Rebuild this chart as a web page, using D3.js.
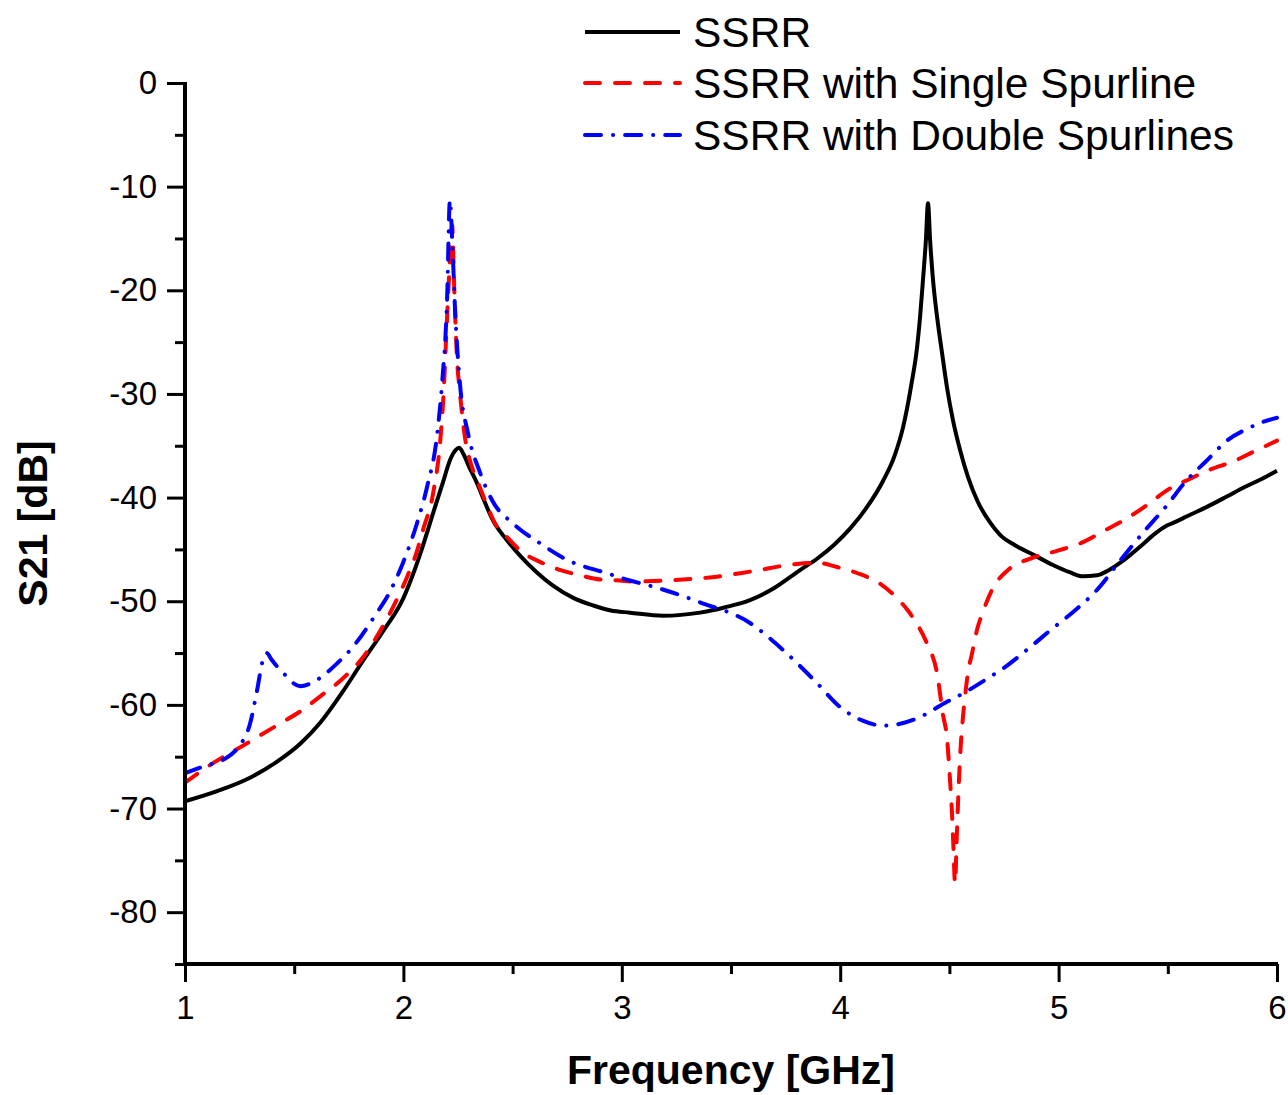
<!DOCTYPE html>
<html>
<head>
<meta charset="utf-8">
<script src="https://cdn.jsdelivr.net/npm/d3@7"></script>
<style>
  html, body { margin: 0; padding: 0; background: #fff; }
  svg { display: block; }
  text { font-family: "Liberation Sans", Arial, sans-serif; }
</style>
</head>
<body>
<svg id="chart" width="1288" height="1095"></svg>
<script>
// ---------- data (frequency GHz, S21 dB) ----------
const seriesNames = ["SSRR", "SSRR with Single Spurline", "SSRR with Double Spurlines"];

const ssrrFreq = [1.000, 1.150, 1.300, 1.420, 1.530, 1.620, 1.720, 1.810, 1.910, 2.000, 2.044, 2.090, 2.136, 2.180, 2.215, 2.240, 2.255, 2.275, 2.300, 2.337, 2.370, 2.410, 2.470, 2.534, 2.610, 2.685, 2.780, 2.868, 2.950, 3.037, 3.189, 3.358, 3.470, 3.587, 3.700, 3.816, 3.894, 3.970, 4.045, 4.120, 4.196, 4.250, 4.288, 4.325, 4.352, 4.366, 4.379, 4.392, 4.402, 4.412, 4.425, 4.445, 4.466, 4.490, 4.516, 4.550, 4.585, 4.630, 4.686, 4.732, 4.800, 4.883, 4.974, 5.050, 5.112, 5.176, 5.230, 5.281, 5.330, 5.386, 5.440, 5.496, 5.540, 5.588, 5.679, 5.770, 5.850, 5.930, 6.000];
const ssrrDb   = [-69.3, -68.3, -67.0, -65.5, -63.7, -61.7, -58.8, -55.9, -52.8, -49.7, -47.4, -44.6, -41.5, -38.6, -36.3, -35.4, -35.2, -35.8, -37.0, -38.6, -40.3, -42.2, -44.0, -45.6, -47.2, -48.5, -49.7, -50.4, -50.9, -51.1, -51.4, -51.1, -50.6, -49.9, -48.7, -47.0, -45.9, -44.6, -43.0, -41.0, -38.4, -35.9, -33.2, -29.2, -25.5, -22.5, -19.0, -15.3, -11.6, -15.3, -19.0, -22.8, -26.0, -29.5, -32.5, -35.5, -38.0, -40.4, -42.4, -43.6, -44.6, -45.5, -46.5, -47.2, -47.6, -47.5, -47.0, -46.3, -45.5, -44.5, -43.5, -42.7, -42.3, -41.8, -40.9, -39.9, -39.0, -38.2, -37.4];

const singleFreq = [1.000, 1.130, 1.252, 1.340, 1.435, 1.530, 1.618, 1.720, 1.815, 1.890, 1.952, 2.016, 2.060, 2.090, 2.136, 2.170, 2.182, 2.200, 2.212, 2.223, 2.233, 2.245, 2.259, 2.282, 2.310, 2.337, 2.380, 2.420, 2.474, 2.540, 2.625, 2.720, 2.809, 2.900, 2.992, 3.050, 3.200, 3.404, 3.600, 3.802, 3.900, 3.985, 4.080, 4.182, 4.260, 4.310, 4.352, 4.400, 4.443, 4.471, 4.489, 4.503, 4.512, 4.518, 4.526, 4.533, 4.540, 4.549, 4.562, 4.571, 4.585, 4.604, 4.626, 4.654, 4.700, 4.768, 4.883, 5.000, 5.112, 5.200, 5.313, 5.400, 5.496, 5.600, 5.693, 5.800, 5.890, 6.000];
const singleDb   = [-67.5, -65.6, -64.1, -63.0, -61.8, -60.6, -59.2, -57.5, -55.4, -53.0, -50.6, -47.7, -45.3, -43.1, -39.6, -34.2, -30.7, -22.6, -17.5, -13.7, -20.0, -26.4, -29.9, -34.2, -36.8, -38.3, -40.6, -42.5, -43.8, -45.2, -46.2, -47.0, -47.5, -47.9, -48.0, -48.1, -48.0, -47.7, -47.1, -46.4, -46.3, -46.7, -47.3, -48.3, -49.7, -50.9, -52.2, -54.2, -56.9, -61.0, -63.2, -67.3, -70.5, -73.5, -77.2, -73.2, -69.2, -65.0, -61.2, -59.3, -56.9, -55.0, -52.8, -51.0, -48.7, -47.0, -45.8, -45.1, -44.3, -43.3, -42.0, -40.8, -39.3, -38.2, -37.3, -36.5, -35.6, -34.5];

const doubleFreq = [1.000, 1.090, 1.174, 1.243, 1.298, 1.330, 1.355, 1.375, 1.395, 1.449, 1.527, 1.604, 1.696, 1.769, 1.879, 1.925, 1.998, 2.062, 2.108, 2.154, 2.177, 2.200, 2.213, 2.225, 2.236, 2.259, 2.296, 2.351, 2.410, 2.502, 2.625, 2.749, 2.932, 3.037, 3.129, 3.358, 3.587, 3.738, 3.894, 3.999, 4.100, 4.196, 4.280, 4.352, 4.489, 4.562, 4.686, 4.745, 4.860, 4.974, 5.080, 5.176, 5.281, 5.386, 5.490, 5.588, 5.680, 5.771, 5.860, 5.936, 6.000];
const doubleDb   = [-66.6, -65.9, -65.3, -64.1, -61.8, -58.6, -55.8, -55.0, -55.6, -56.9, -58.2, -57.6, -56.0, -54.4, -51.1, -49.6, -46.3, -42.5, -39.0, -34.0, -29.0, -20.9, -11.3, -16.0, -21.6, -29.0, -33.8, -37.6, -40.4, -42.5, -44.4, -46.0, -47.3, -48.0, -48.5, -50.1, -52.1, -54.7, -57.9, -60.2, -61.5, -62.0, -61.8, -61.3, -59.7, -58.9, -57.3, -56.5, -54.6, -52.6, -50.8, -48.9, -46.1, -43.4, -40.9, -38.3, -36.4, -34.5, -33.4, -32.7, -32.3];

const xTicks = [1, 2, 3, 4, 5, 6];
const xMinorTicks = [1.5, 2.5, 3.5, 4.5, 5.5];
const yTicks = [0, -10, -20, -30, -40, -50, -60, -70, -80];
const yMinorTicks = [-5, -15, -25, -35, -45, -55, -65, -75, -85];
const xTitle = "Frequency [GHz]";
const yTitle = "S21 [dB]";

// ---------- drawing ----------
const svg = d3.select("#chart");
const x = d3.scaleLinear().domain([1, 6]).range([185, 1277]);
const y = d3.scaleLinear().domain([-85, 0]).range([964, 83]);

const styles = [
  { color: "#000000", dash: null },
  { color: "#ff0000", dash: "15,15" },
  { color: "#0000ff", dash: "16,12,0.1,12" }
];

const series = [
  ssrrFreq.map((f, i) => [f, ssrrDb[i]]),
  singleFreq.map((f, i) => [f, singleDb[i]]),
  doubleFreq.map((f, i) => [f, doubleDb[i]])
];

const line = d3.line().x(d => x(d[0])).y(d => y(d[1])).curve(d3.curveMonotoneX);

series.forEach((s, i) => {
  svg.append("path")
    .datum(s)
    .attr("d", line)
    .attr("fill", "none")
    .attr("stroke", styles[i].color)
    .attr("stroke-width", 4)
    .attr("stroke-linecap", styles[i].dash ? "round" : "butt")
    .attr("stroke-linejoin", "round")
    .attr("stroke-dasharray", styles[i].dash);
});

// axes
const fontSize = 33;
const xAxis = d3.axisBottom(x).tickValues(xTicks).tickFormat(d3.format("d")).tickSize(18).tickPadding(14);
const xMinor = d3.axisBottom(x).tickValues(xMinorTicks).tickFormat("").tickSize(10);
const yAxis = d3.axisLeft(y).tickValues(yTicks).tickFormat(d => d).tickSize(18).tickPadding(10);
const yMinor = d3.axisLeft(y).tickValues(yMinorTicks).tickFormat("").tickSize(10);

function styleAxis(g) {
  g.select(".domain").remove();
  g.selectAll(".tick line").attr("stroke", "#000").attr("stroke-width", 3);
  g.selectAll(".tick text").attr("font-size", fontSize).attr("fill", "#000")
    .attr("font-family", "'Liberation Sans', Arial, sans-serif");
}

svg.append("g").attr("transform", "translate(0,964)").call(xAxis).call(styleAxis);
svg.append("g").attr("transform", "translate(0,964)").call(xMinor).call(styleAxis);
svg.append("g").attr("transform", "translate(185,0)").call(yAxis).call(styleAxis);
svg.append("g").attr("transform", "translate(185,0)").call(yMinor).call(styleAxis);

// axis lines
svg.append("line").attr("x1", x(1)).attr("x2", x(1)).attr("y1", y(0) - 1).attr("y2", y(-85) + 2)
  .attr("stroke", "#000").attr("stroke-width", 4);
svg.append("line").attr("x1", x(1) - 2).attr("x2", x(6) + 1).attr("y1", y(-85)).attr("y2", y(-85))
  .attr("stroke", "#000").attr("stroke-width", 4);

// titles
svg.append("text").attr("x", (x(1) + x(6)) / 2).attr("y", 1084)
  .attr("text-anchor", "middle").attr("font-size", 41).attr("font-weight", "bold").text(xTitle);
svg.append("text").attr("transform", "translate(47," + y(-42.5) + ") rotate(-90)")
  .attr("text-anchor", "middle").attr("font-size", 41).attr("font-weight", "bold").text(yTitle);

// legend
const legendY = [32, 83, 135];
seriesNames.forEach((name, i) => {
  svg.append("line").attr("x1", 585).attr("x2", 680).attr("y1", legendY[i]).attr("y2", legendY[i])
    .attr("stroke", styles[i].color).attr("stroke-width", 4)
    .attr("stroke-linecap", styles[i].dash ? "round" : "butt")
    .attr("stroke-dasharray", styles[i].dash);
  svg.append("text").attr("x", 693).attr("y", legendY[i] + 15)
    .attr("font-size", 42.5).attr("fill", "#000").text(name);
});
</script>
</body>
</html>
